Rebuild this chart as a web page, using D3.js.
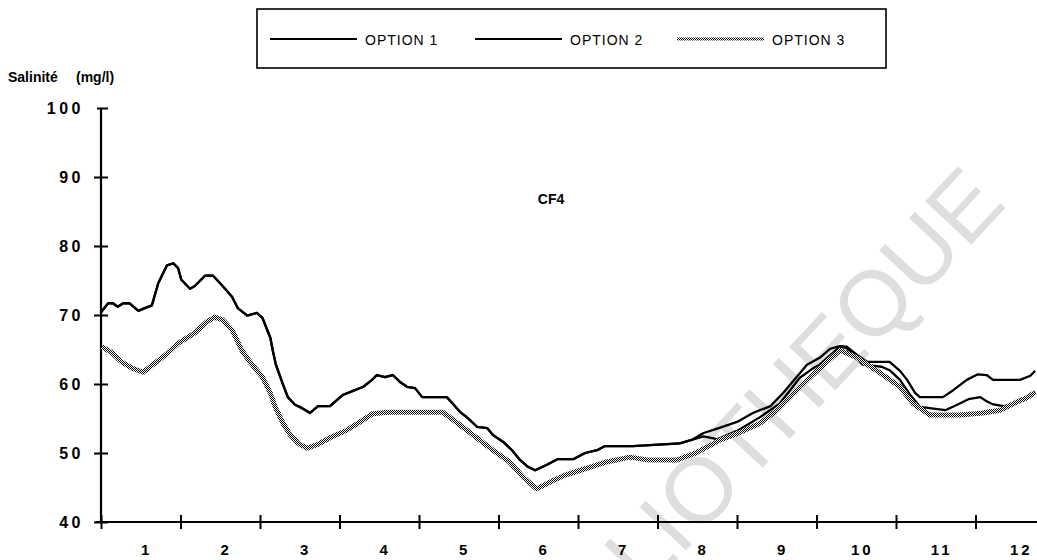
<!DOCTYPE html>
<html>
<head>
<meta charset="utf-8">
<script src="https://cdn.jsdelivr.net/npm/d3@7"></script>
<style>
	body { margin: 0; background: #fff; }
	svg { display: block; }
	text { font-family: "Liberation Sans", Arial, sans-serif; }
</style>
</head>
<body>
<svg width="1037" height="560"></svg>
<script>
// [mois, salinite]
var option1 = [
	[0.00, 70.4], [0.09, 71.7], [0.15, 71.7], [0.21, 71.2], [0.28, 71.7], [0.36, 71.7],
	[0.47, 70.6], [0.55, 71.0], [0.64, 71.4], [0.72, 74.6], [0.83, 77.2], [0.91, 77.5],
	[0.97, 76.8], [1.01, 75.1], [1.12, 73.8], [1.18, 74.2], [1.31, 75.7], [1.41, 75.7],
	[1.53, 74.2], [1.65, 72.6], [1.72, 71.0], [1.84, 69.9], [1.96, 70.3], [2.03, 69.6],
	[2.13, 66.7], [2.16, 64.9], [2.20, 62.8], [2.29, 59.9], [2.35, 58.1], [2.44, 57.0],
	[2.53, 56.5], [2.63, 55.8], [2.73, 56.8], [2.88, 56.8], [2.97, 57.7], [3.04, 58.4],
	[3.17, 59.0], [3.30, 59.6], [3.41, 60.6], [3.47, 61.3], [3.57, 61.0], [3.67, 61.3],
	[3.76, 60.3], [3.85, 59.6], [3.95, 59.4], [4.04, 58.1], [4.35, 58.1], [4.42, 57.2],
	[4.52, 55.9], [4.60, 55.2], [4.73, 53.8], [4.86, 53.6], [4.93, 52.6], [5.06, 51.6],
	[5.17, 50.4], [5.27, 49.0], [5.37, 48.0], [5.46, 47.5], [5.61, 48.3], [5.74, 49.1],
	[5.94, 49.1], [6.09, 50.0], [6.24, 50.4], [6.34, 51.0], [6.69, 51.0], [7.12, 51.3],
	[7.28, 51.4], [7.43, 51.9], [7.58, 52.9], [7.77, 53.6], [8.00, 54.5], [8.20, 55.8],
	[8.42, 56.8], [8.58, 58.7], [8.75, 61.0], [8.88, 62.8], [9.04, 63.8], [9.17, 65.1],
	[9.29, 65.5], [9.38, 65.4], [9.51, 64.2], [9.64, 63.2], [9.92, 63.2], [10.05, 61.9],
	[10.14, 60.6], [10.24, 58.7], [10.30, 58.1], [10.59, 58.1], [10.72, 59.1], [10.89, 60.6],
	[11.03, 61.4], [11.14, 61.3], [11.22, 60.6], [11.56, 60.6], [11.69, 61.2], [11.75, 61.9]
];

// option 2 = option 1 jusqu'a ~7.4, puis :
var option2Tail = [
	[7.58, 52.4], [7.75, 52.0], [8.00, 53.2], [8.29, 55.2], [8.54, 57.2], [8.79, 60.9],
	[8.96, 62.3], [9.04, 62.8], [9.29, 65.4], [9.38, 65.2], [9.58, 62.8], [9.82, 62.5],
	[9.92, 62.0], [10.05, 60.6], [10.18, 58.4], [10.30, 56.7], [10.62, 56.2], [10.77, 57.0],
	[10.91, 57.8], [11.06, 58.1], [11.14, 57.5], [11.21, 57.1], [11.35, 56.8], [11.47, 57.0],
	[11.62, 58.0], [11.75, 58.9]
];

var option3 = [
	[0.01, 65.4], [0.14, 64.5], [0.26, 63.2], [0.39, 62.3], [0.53, 61.7], [0.65, 62.8],
	[0.81, 64.2], [0.97, 65.9], [1.18, 67.4], [1.33, 69.0], [1.43, 69.7], [1.53, 69.3],
	[1.65, 67.8], [1.77, 64.9], [1.90, 62.8], [2.03, 61.0], [2.13, 58.7], [2.19, 56.7],
	[2.29, 54.3], [2.38, 52.6], [2.48, 51.4], [2.59, 50.7], [2.72, 51.2], [2.88, 52.2],
	[3.09, 53.3], [3.26, 54.5], [3.42, 55.7], [3.60, 55.9], [4.30, 55.9], [4.43, 54.8],
	[4.68, 52.6], [4.93, 50.4], [5.14, 48.7], [5.31, 46.5], [5.48, 44.8], [5.65, 45.8],
	[5.84, 46.8], [6.03, 47.5], [6.36, 48.7], [6.65, 49.4], [6.87, 49.0], [7.25, 49.0],
	[7.50, 50.1], [7.79, 51.9], [8.04, 53.0], [8.29, 54.3], [8.50, 56.2], [8.75, 59.1],
	[8.92, 61.0], [9.04, 62.3], [9.30, 64.9], [9.51, 63.8], [9.80, 61.6], [10.05, 59.6],
	[10.21, 57.2], [10.43, 55.5], [10.81, 55.5], [11.09, 55.8], [11.31, 56.2], [11.52, 57.4],
	[11.65, 58.0], [11.75, 58.8]
];

var yTicks = [40, 50, 60, 70, 80, 90, 100];
var months = ["1", "2", "3", "4", "5", "6", "7", "8", "9", "10", "11", "12"];
var legendNames = ["OPTION 1", "OPTION 2", "OPTION 3"];

var option2 = option1.filter(function (d) { return d[0] < 7.45; }).concat(option2Tail);

var svg = d3.select("svg"),
	width = +svg.attr("width"),
	height = +svg.attr("height");

var x = d3.scaleLinear().domain([0, 12]).range([101, 101 + 12 * 79.5]);
var y = d3.scaleLinear().domain([40, 100]).range([522, 108]);

// motif tramé pour l'option 3
var defs = svg.append("defs");
var pat = defs.append("pattern")
	.attr("id", "trame")
	.attr("patternUnits", "userSpaceOnUse")
	.attr("width", 2)
	.attr("height", 2);
pat.append("rect").attr("width", 2).attr("height", 2).attr("fill", "#fff");
pat.append("rect").attr("x", 0).attr("y", 0).attr("width", 1).attr("height", 1).attr("fill", "#000");
pat.append("rect").attr("x", 1).attr("y", 1).attr("width", 1).attr("height", 1).attr("fill", "#000");

// filigrane
svg.append("text")
	.attr("transform", "translate(1008,205) rotate(-47)")
	.attr("text-anchor", "end")
	.style("font-size", "92px")
	.style("fill", "#dedede")
	.text("BIBLIOTHEQUE");

// axes
var yAxis = svg.append("g")
	.attr("transform", "translate(" + x(0) + ",0)")
	.call(d3.axisLeft(y).tickValues(yTicks).tickSizeInner(0).tickSizeOuter(0).tickFormat(""));
yAxis.select(".domain").attr("stroke-width", 2.2).attr("d", "M0," + (y(40) + 1) + "V" + y(100));
yAxis.selectAll(".tick line")
	.attr("x1", function (d) { return d == 100 ? -4 : -7; })
	.attr("x2", 7)
	.attr("stroke-width", 2);

svg.append("g").selectAll("text")
	.data(yTicks)
	.enter().append("text")
	.attr("x", 84)
	.attr("y", function (d) { return y(d) + 6; })
	.attr("text-anchor", "end")
	.style("font-size", "16px")
	.style("font-weight", "bold")
	.style("letter-spacing", "3.5px")
	.text(function (d) { return d; });

var xAxis = svg.append("g")
	.attr("transform", "translate(0," + y(40) + ")")
	.call(d3.axisBottom(x).tickValues(d3.range(0, 12)).tickSizeInner(0).tickSizeOuter(0).tickFormat(""));
xAxis.select(".domain").attr("stroke-width", 2.2).attr("d", "M" + (x(0) - 5) + ",0H" + width);
xAxis.selectAll(".tick line")
	.attr("y1", -7)
	.attr("y2", 7)
	.attr("stroke-width", 2);

svg.append("g").selectAll("text")
	.data(months)
	.enter().append("text")
	.attr("x", function (d, i) { return x(i + 0.5) + 6; })
	.attr("y", 555)
	.attr("text-anchor", "middle")
	.style("font-size", "15px")
	.style("font-weight", "bold")
	.style("letter-spacing", "3px")
	.text(function (d) { return d; });

// titres
svg.append("text")
	.attr("x", 8)
	.attr("y", 82)
	.style("font-size", "14px")
	.style("font-weight", "bold")
	.text("Salinité");
svg.append("text")
	.attr("x", 76)
	.attr("y", 82)
	.style("font-size", "14px")
	.style("font-weight", "bold")
	.text("(mg/l)");

svg.append("text")
	.attr("x", 551)
	.attr("y", 204)
	.attr("text-anchor", "middle")
	.style("font-size", "14px")
	.style("font-weight", "bold")
	.text("CF4");

// courbes
var line = d3.line()
	.x(function (d) { return x(d[0]); })
	.y(function (d) { return y(d[1]); });

svg.append("path")
	.datum(option1)
	.attr("d", line)
	.attr("fill", "none")
	.attr("stroke", "#000")
	.attr("stroke-width", 2.3)
	.attr("stroke-linejoin", "round");

svg.append("path")
	.datum(option2)
	.attr("d", line)
	.attr("fill", "none")
	.attr("stroke", "#000")
	.attr("stroke-width", 2.3)
	.attr("stroke-linejoin", "round");

svg.append("path")
	.datum(option3)
	.attr("d", line)
	.attr("fill", "none")
	.attr("stroke", "url(#trame)")
	.attr("stroke-width", 5)
	.attr("stroke-linejoin", "round");

// légende
var legend = svg.append("g");
legend.append("rect")
	.attr("x", 257)
	.attr("y", 9)
	.attr("width", 629)
	.attr("height", 59)
	.attr("fill", "none")
	.attr("stroke", "#000")
	.attr("stroke-width", 1.6);

var legX = [270, 475, 677];
legend.selectAll("line")
	.data(legendNames)
	.enter().append("line")
	.attr("x1", function (d, i) { return legX[i]; })
	.attr("x2", function (d, i) { return legX[i] + 87; })
	.attr("y1", 39)
	.attr("y2", 39)
	.attr("stroke", function (d, i) { return i == 2 ? "url(#trame)" : "#000"; })
	.attr("stroke-width", function (d, i) { return i == 2 ? 3 : 2; });

legend.selectAll("text")
	.data(legendNames)
	.enter().append("text")
	.attr("x", function (d, i) { return legX[i] + 95; })
	.attr("y", 45)
	.style("font-size", "14px")
	.style("letter-spacing", "1px")
	.text(function (d) { return d; });
</script>
</body>
</html>
